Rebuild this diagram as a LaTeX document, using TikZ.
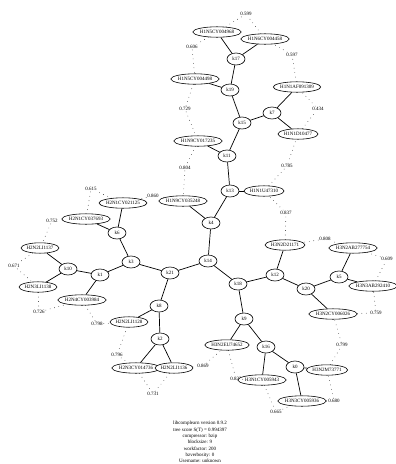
\documentclass[tikz,border=0pt]{standalone}
\usepackage{fontspec}
\setmainfont{Liberation Serif}
\usetikzlibrary{shapes.geometric}

\begin{document}
\begin{tikzpicture}[x=1pt,y=-1pt,font=\fontsize{5}{6.3}\selectfont,leaf/.style={shape=ellipse, draw, fill=white, inner xsep=0pt, inner ysep=2pt, line width=0.6pt},knot/.style={shape=ellipse, draw, fill=white, minimum width=18pt, minimum height=12pt, inner sep=0pt, line width=0.6pt},dist/.style={inner sep=1pt},dotline/.style={line width=0.7pt, line cap=round, dash pattern=on 0pt off 4.5pt}]
\useasboundingbox (0,0) rectangle (396,464);
% distances between neighbouring leaves
\foreach \d/\x/\y in {599/246/14, 606/192/47, 729/185/109, 804/185/168, 860/153/196, 615/91/189, 752/52/221, 671/14/266, 726/39/312, 798/97/324, 796/117/355, 731/153/394, 869/203/366, 833/236/379, 665/276/412, 680/334/401, 799/342/345, 759/376/313, 609/387/259, 808/325/239, 837/286/213, 785/287/166, 434/318/109, 597/292/55}
	\node[dist] (d\d) at (\x, \y) {0.\d};
% inner nodes
\foreach \n/\x/\y in {k17/236/59, k19/230/90, k15/242/123, k7/272/113, k11/227/156, k13/230/191, k4/211/223, k14/208/261, k21/170/273, k3/131/262, k6/117/233, k1/100/275, k10/68/269, k8/159/306, k2/160/339, k18/238/284, k12/275/275, k20/306/289, k5/339/277, k9/244/319, k16/266/347, k0/295/367}
	\node[knot] (\n) at (\x, \y) {\n};
% leaves
\foreach \n/\x/\y in {H1N5CY004968/217/32, H1N6CY004458/265/39, H1N5CY004498/195/79, H1N1AF091309/297/87, H1N1D10477/298/134, H1N9CY017235/198/141, H1N1U47310/264/191, H1N9CY035248/183/201, H2N1CY021125/123/203, H2N1CY037693/86/219, H2N2LI1137/40/248, H2N3LI1138/38/287, H2N4CY003984/82/300, H2N2LI1128/129/322, H2N3CY014736/136/368, H2N2LI1136/174/368, H3N2EU74652/227/345, H3N1CY005943/262/380, H3N3CY005936/302/401, H3N2M73771/327/370, H3N2CY006026/333/314, H3N3AB292410/373/286, H3N2AB277754/353/248, H3N2D21171/285/245}
	\node[leaf] (\n) at (\x, \y) {\n};
% tree
\draw[line width=0.7pt] (k17) -- (H1N5CY004968); \draw[line width=0.7pt] (k17) -- (H1N6CY004458); \draw[line width=0.7pt] (k17) -- (k19); \draw[line width=0.7pt] (k19) -- (H1N5CY004498); \draw[line width=0.7pt] (k19) -- (k15);
\draw[line width=0.7pt] (k15) -- (k7); \draw[line width=0.7pt] (k7) -- (H1N1AF091309); \draw[line width=0.7pt] (k7) -- (H1N1D10477); \draw[line width=0.7pt] (k15) -- (k11); \draw[line width=0.7pt] (k11) -- (H1N9CY017235);
\draw[line width=0.7pt] (k11) -- (k13); \draw[line width=0.7pt] (k13) -- (H1N1U47310); \draw[line width=0.7pt] (k13) -- (k4); \draw[line width=0.7pt] (k4) -- (H1N9CY035248); \draw[line width=0.7pt] (k4) -- (k14);
\draw[line width=0.7pt] (k14) -- (k21); \draw[line width=0.7pt] (k21) -- (k3); \draw[line width=0.7pt] (k3) -- (k6); \draw[line width=0.7pt] (k6) -- (H2N1CY021125); \draw[line width=0.7pt] (k6) -- (H2N1CY037693);
\draw[line width=0.7pt] (k3) -- (k1); \draw[line width=0.7pt] (k1) -- (k10); \draw[line width=0.7pt] (k10) -- (H2N2LI1137); \draw[line width=0.7pt] (k10) -- (H2N3LI1138); \draw[line width=0.7pt] (k1) -- (H2N4CY003984);
\draw[line width=0.7pt] (k21) -- (k8); \draw[line width=0.7pt] (k8) -- (H2N2LI1128); \draw[line width=0.7pt] (k8) -- (k2); \draw[line width=0.7pt] (k2) -- (H2N3CY014736); \draw[line width=0.7pt] (k2) -- (H2N2LI1136);
\draw[line width=0.7pt] (k14) -- (k18); \draw[line width=0.7pt] (k18) -- (k12); \draw[line width=0.7pt] (k12) -- (H3N2D21171); \draw[line width=0.7pt] (k12) -- (k20); \draw[line width=0.7pt] (k20) -- (k5);
\draw[line width=0.7pt] (k5) -- (H3N2AB277754); \draw[line width=0.7pt] (k5) -- (H3N3AB292410); \draw[line width=0.7pt] (k20) -- (H3N2CY006026); \draw[line width=0.7pt] (k18) -- (k9); \draw[line width=0.7pt] (k9) -- (H3N2EU74652);
\draw[line width=0.7pt] (k9) -- (k16); \draw[line width=0.7pt] (k16) -- (H3N1CY005943); \draw[line width=0.7pt] (k16) -- (k0); \draw[line width=0.7pt] (k0) -- (H3N2M73771); \draw[line width=0.7pt] (k0) -- (H3N3CY005936);
% leaf ring
\foreach \a/\d/\b in {H1N6CY004458/599/H1N5CY004968, H1N5CY004968/606/H1N5CY004498, H1N5CY004498/729/H1N9CY017235, H1N9CY017235/804/H1N9CY035248, H1N9CY035248/860/H2N1CY021125, H2N1CY021125/615/H2N1CY037693, H2N1CY037693/752/H2N2LI1137, H2N2LI1137/671/H2N3LI1138, H2N3LI1138/726/H2N4CY003984, H2N4CY003984/798/H2N2LI1128, H2N2LI1128/796/H2N3CY014736, H2N3CY014736/731/H2N2LI1136, H2N2LI1136/869/H3N2EU74652, H3N2EU74652/833/H3N1CY005943, H3N1CY005943/665/H3N3CY005936, H3N3CY005936/680/H3N2M73771, H3N2M73771/799/H3N2CY006026, H3N2CY006026/759/H3N3AB292410, H3N3AB292410/609/H3N2AB277754, H3N2AB277754/808/H3N2D21171, H3N2D21171/837/H1N1U47310, H1N1U47310/785/H1N1D10477, H1N1D10477/434/H1N1AF091309, H1N1AF091309/597/H1N6CY004458}
	\draw[dotline] (\a) -- (d\d) -- (\b);
\node[align=center, font=\fontsize{5}{6.3}\selectfont] (info) at (200,442) {libcomplearn version 0.9.2\\tree score S(T) = 0.994397\\compressor: bzip\\blocksize: 9\\workfactor: 200\\bzverbosity: 0\\Username: unknown};
\end{tikzpicture}
\end{document}
